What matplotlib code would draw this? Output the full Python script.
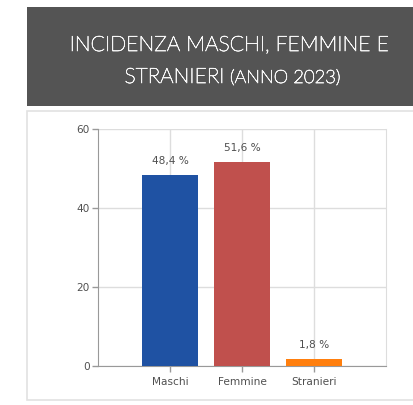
import matplotlib
matplotlib.use("Agg")
import matplotlib.pyplot as plt
import matplotlib.patheffects as pe
from matplotlib.patches import Rectangle

categories = ["Maschi", "Femmine", "Stranieri"]
values = [48.4, 51.6, 1.8]
labels = ["48,4 %", "51,6 %", "1,8 %"]
colors = ["#1f52a3", "#c0504d", "#ff7f0e"]
yticks = [0, 20, 40, 60]
title_line1 = "INCIDENZA MASCHI, FEMMINE E"
title_line2a = "STRANIERI "
title_line2b = "(ANNO 2023)"

W, H = 414, 405
fig = plt.figure(figsize=(W / 100, H / 100), dpi=100)
fig.patch.set_facecolor("white")

def fx(px):
    return px / W

def fy(py):
    return 1 - py / H

# header box
fig.patches.append(Rectangle((fx(27), fy(106)), fx(414) - fx(27), fy(7) - fy(106),
                             transform=fig.transFigure, facecolor="#545454",
                             edgecolor="none", zorder=-2))
# panel border
fig.patches.append(Rectangle((fx(27.5), fy(400)), fx(420) - fx(27.5), fy(111) - fy(400),
                             transform=fig.transFigure, facecolor="white",
                             edgecolor="#e2e2e2", linewidth=1.2, zorder=-2))

tc = "#f6f6f6"
stroke = [pe.withStroke(linewidth=0.5, foreground=tc)]
fig.text(fx(230), fy(45), title_line1, ha="center", va="center", color=tc,
         fontsize=15.2, family="Lato", fontweight="light", path_effects=stroke)
fig.text(fx(231), fy(77), title_line2a, ha="right", va="center", color=tc,
         fontsize=15.2, family="Lato", fontweight="light", path_effects=stroke)
fig.text(fx(230), fy(78), title_line2b, ha="left", va="center", color=tc,
         fontsize=13.2, family="Lato", fontweight="light", path_effects=stroke)

# axes: left 98, right 386, top 129 (60), bottom 366 (0)
ax = fig.add_axes([fx(98), fy(366), fx(386) - fx(98), fy(129) - fy(366)])
ax.set_zorder(2)
x = [1, 2, 3]
ax.bar(x, values, width=0.78, color=colors, zorder=3)
for xi, v, lab in zip(x, values, labels):
    ax.text(xi, v + 2.2, lab, ha="center", va="bottom", fontsize=7.6, color="#505050",
            family="DejaVu Sans")

ax.set_xlim(0, 4)
ax.set_ylim(0, 60)
ax.set_yticks(yticks)
ax.set_xticks(x)
ax.set_xticklabels(categories)
ax.grid(True, color="#dddddd", linewidth=1, zorder=0)
ax.set_axisbelow(True)
ax.spines["top"].set_visible(False)
ax.spines["right"].set_color("#dddddd")
ax.spines["left"].set_color("#999999")
ax.spines["bottom"].set_color("#999999")
ax.tick_params(axis="both", colors="#999999", length=4, width=1, labelcolor="#505050",
               labelsize=7.6)
ax.tick_params(axis="x", pad=4)
ax.tick_params(axis="y", pad=2)
for lab in ax.get_xticklabels() + ax.get_yticklabels():
    lab.set_family("DejaVu Sans")
ax.set_facecolor("none")

fig.savefig("out.png", dpi=100)
